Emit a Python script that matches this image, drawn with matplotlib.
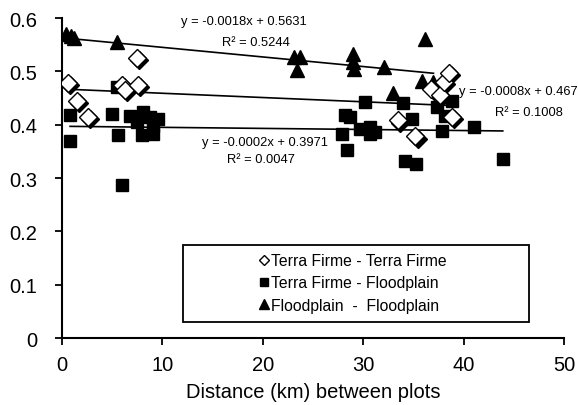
import numpy as np
import matplotlib
matplotlib.use('Agg')
import matplotlib.pyplot as plt
import matplotlib.transforms as mtransforms
from matplotlib.patches import Rectangle
from matplotlib.lines import Line2D

plt.rcParams['font.family'] = ['Liberation Sans', 'DejaVu Sans']

# Terra Firme - Terra Firme (open diamonds)
tt_x = [0.6, 1.5, 2.6, 6.0, 6.3, 7.5, 7.6, 33.5, 35.2, 36.8, 37.6, 38.0, 38.5, 38.8]
tt_y = [0.478, 0.445, 0.414, 0.475, 0.465, 0.525, 0.475, 0.408, 0.378, 0.467, 0.455, 0.480, 0.497, 0.415]

# Terra Firme - Floodplain (squares)
tf_x = [0.8, 0.8, 5.0, 5.5, 5.6, 6.0, 6.8, 7.5, 8.1, 8.0, 8.8, 9.1, 9.1, 9.6,
        27.9, 28.2, 28.4, 28.7, 29.7, 30.2, 30.7, 30.7, 31.2, 34.0, 34.2, 34.9,
        35.3, 37.3, 37.8, 38.1, 38.8, 41.0, 43.9]
tf_y = [0.370, 0.418, 0.420, 0.471, 0.380, 0.287, 0.416, 0.405, 0.424, 0.381, 0.415, 0.398, 0.383, 0.410,
        0.383, 0.419, 0.353, 0.414, 0.392, 0.443, 0.396, 0.383, 0.386, 0.440, 0.332, 0.411,
        0.326, 0.433, 0.388, 0.417, 0.444, 0.396, 0.336]

# Floodplain - Floodplain (triangles)
ff_x = [0.4, 0.9, 1.2, 5.5, 23.1, 23.7, 23.4, 29.0, 29.0, 29.1, 32.1, 33.0, 35.9, 36.2, 37.0]
ff_y = [0.570, 0.566, 0.563, 0.555, 0.527, 0.527, 0.503, 0.533, 0.518, 0.505, 0.508, 0.460, 0.482, 0.561, 0.480]

# trend lines as printed on the chart
slopes = [-0.0008, -0.0002, -0.0018]
intercepts = [0.467, 0.3971, 0.5631]
r2 = [0.1008, 0.0047, 0.5244]

fig = plt.figure(figsize=(5.78, 4.06), dpi=100)
ax = fig.add_axes([0.1073, 0.165, 0.8685, 0.788])

# diamonds with a drop shadow
shadow = mtransforms.offset_copy(ax.transData, fig=fig, x=1.5, y=-1.5, units='points')
ax.plot(tt_x, tt_y, 'D', ms=9, color='black', transform=shadow, zorder=3)
ax.plot(tt_x, tt_y, 'D', ms=9, mfc='white', mec='black', mew=1.0, zorder=4)
ax.plot(tf_x, tf_y, 's', ms=8.5, color='black', zorder=3)
ax.plot(ff_x, ff_y, '^', ms=9.5, color='black', zorder=3)

for xs, m, b in zip([tt_x, tf_x, ff_x], slopes, intercepts):
    xl = np.array([min(xs), max(xs)])
    ax.plot(xl, m * xl + b, color='black', lw=1.2, zorder=2)

fs = 9.3
ax.text(18.1, 0.595, 'y = -0.0018x + 0.5631', fontsize=fs, ha='center', va='center')
ax.text(19.3, 0.555, 'R² = 0.5244', fontsize=fs, ha='center', va='center')
ax.text(45.4, 0.463, 'y = -0.0008x + 0.467', fontsize=fs, ha='center', va='center', clip_on=False)
ax.text(46.5, 0.424, 'R² = 0.1008', fontsize=fs, ha='center', va='center')
ax.text(20.2, 0.368, 'y = -0.0002x + 0.3971', fontsize=fs, ha='center', va='center')
ax.text(19.8, 0.336, 'R² = 0.0047', fontsize=fs, ha='center', va='center')

ax.set_xlim(0, 50)
ax.set_ylim(0, 0.6)
ax.set_xticks([0, 10, 20, 30, 40, 50])
ax.set_yticks([0, 0.1, 0.2, 0.3, 0.4, 0.5, 0.6])
ax.set_yticklabels(['0', '0.1', '0.2', '0.3', '0.4', '0.5', '0.6'])
ax.tick_params(direction='out', length=5, width=1.3, labelsize=14.5)
ax.tick_params(axis='x', pad=7)
ax.tick_params(axis='y', pad=13)
for s in ['top', 'right']:
    ax.spines[s].set_visible(False)
for s in ['left', 'bottom']:
    ax.spines[s].set_linewidth(1.5)
ax.set_xlabel('Distance (km) between plots', fontsize=14.5, labelpad=6)

# legend box
ax.add_patch(Rectangle((0.241, 0.05), 0.689, 0.24, transform=ax.transAxes,
                       fill=False, ec='black', lw=1.3, zorder=5))
handles = [Line2D([], [], ls='none', marker='D', ms=5.5, mfc='white', mec='black', mew=1.0),
           Line2D([], [], ls='none', marker='s', ms=6, color='black'),
           Line2D([], [], ls='none', marker='^', ms=7, color='black')]
labels = ['Terra Firme - Terra Firme', 'Terra Firme - Floodplain', 'Floodplain  -  Floodplain']
ax.legend(handles, labels, loc='center', bbox_to_anchor=(0.578, 0.172), frameon=False,
          fontsize=11.3, handlelength=0.8, handletextpad=0.1, labelspacing=0.45, borderpad=0)

fig.savefig('out.png', dpi=100)
